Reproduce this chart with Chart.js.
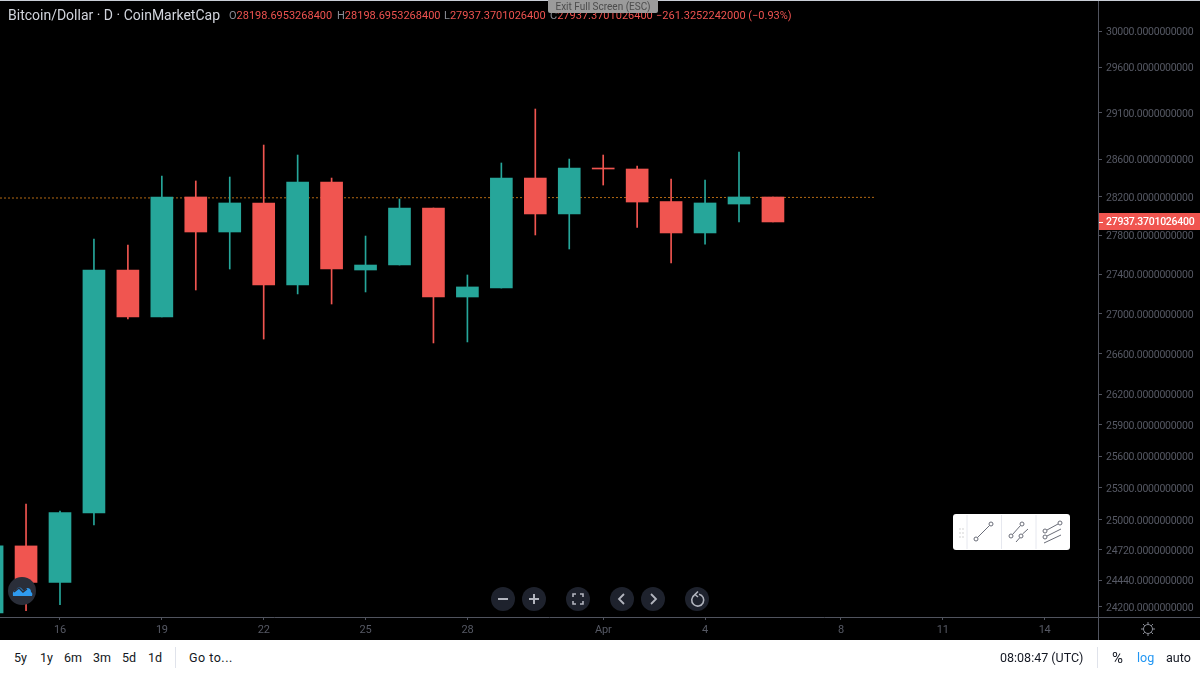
<!DOCTYPE html>
<html>
<head>
<meta charset="utf-8">
<title>Bitcoin/Dollar</title>
<script src="https://cdn.jsdelivr.net/npm/chart.js@4"></script>
<style>
  html, body { margin: 0; padding: 0; background: #000; overflow: hidden; }
  body { width: 1200px; height: 675px; position: relative; font-family: Roboto, sans-serif; }
  canvas { position: absolute; left: 0; top: 0; }
  .t { position: absolute; white-space: nowrap; }
  #topline { position: absolute; left: 0; top: 0; width: 1200px; height: 1px; background: #c9ced6; }
  #exit { position: absolute; left: 548px; top: 0; width: 110px; height: 13px; background: #9b9b9b; color: #4c4c4c;
          font-size: 10px; line-height: 13px; text-align: center; border-radius: 0 0 2px 2px; }
  .ohlc { top: 8px; font-size: 11px; line-height: 15px; color: #ef5350; }
  .ohlc b { font-weight: 400; color: #8a8d96; }
  #bottom { position: absolute; left: 0; top: 640px; width: 1200px; height: 35px; background: #fff; color: #131722; font-size: 12.5px; }
  #bottom .t { top: 10px; line-height: 16px; }
  #bottom .sep { position: absolute; top: 7px; width: 1px; height: 21px; background: #e0e3eb; }
  .round { position: absolute; top: 587px; width: 24px; height: 24px; border-radius: 12px; background: #1e222d; }
  .round svg { position: absolute; left: 0; top: 0; }
  #logo { position: absolute; left: 8px; top: 577px; width: 28px; height: 28px; border-radius: 14px; background: #2a2e39; }
  #tools { position: absolute; left: 953px; top: 514px; width: 117px; height: 36px; background: #fff; border-radius: 3px; }
  #tools svg { position: absolute; left: 0; top: 0; }
  #gear { position: absolute; left: 1140px; top: 621px; }
</style>
</head>
<body>
<canvas id="myChart" width="1200" height="640"></canvas>
<div id="topline"></div>

<div class="t" style="left:8px;top:7px;font-size:14px;line-height:17px;color:#d1d4dc">Bitcoin/Dollar · D · CoinMarketCap</div>
<div class="t ohlc" style="left:229px"><b>O</b>28198.6953268400</div>
<div class="t ohlc" style="left:337px"><b>H</b>28198.6953268400</div>
<div class="t ohlc" style="left:444px"><b>L</b>27937.3701026400</div>
<div class="t ohlc" style="left:550px"><b>C</b>27937.3701026400</div>
<div class="t ohlc" style="left:656px">−261.3252242000 (−0.93%)</div>
<div id="exit">Exit Full Screen (ESC)</div>

<div id="logo"><svg width="28" height="28" viewBox="0 0 28 28"><path d="M5 19 q-1 -5 3 -6 q2 -4 5 -2 l3 3 l3 -3 q4 0 4 4 q2 1 1 4 z" fill="#2f9bf0"/><path d="M6 15 l5 -4 l4 4 l4 -3" fill="none" stroke="#2a2e39" stroke-width="1.4"/></svg></div>

<div class="round" style="left:491px"><svg width="24" height="24"><path d="M7 12 H17" stroke="#b2b5be" stroke-width="2"/></svg></div>
<div class="round" style="left:522px"><svg width="24" height="24"><path d="M7 12 H17 M12 7 V17" stroke="#b2b5be" stroke-width="2"/></svg></div>
<div class="round" style="left:566px"><svg width="24" height="24"><path d="M7 10 V7 H10 M14 7 H17 V10 M17 14 V17 H14 M10 17 H7 V14" fill="none" stroke="#b2b5be" stroke-width="1.6"/></svg></div>
<div class="round" style="left:610px"><svg width="24" height="24"><path d="M14 7 L9 12 L14 17" fill="none" stroke="#b2b5be" stroke-width="1.8"/></svg></div>
<div class="round" style="left:641px"><svg width="24" height="24"><path d="M10 7 L15 12 L10 17" fill="none" stroke="#b2b5be" stroke-width="1.8"/></svg></div>
<div class="round" style="left:685px"><svg width="24" height="24"><path d="M9.5 8 A6 6 0 1 0 14 7.2 M13 4.5 L10 7.5 L13 10" fill="none" stroke="#b2b5be" stroke-width="1.6"/></svg></div>

<div id="tools"><svg width="117" height="36" fill="none" stroke="#6a6d78" stroke-width="1">
  <circle cx="7" cy="15" r=".8" fill="#ccc" stroke="none"/><circle cx="10" cy="15" r=".8" fill="#ccc" stroke="none"/>
  <circle cx="7" cy="19" r=".8" fill="#ccc" stroke="none"/><circle cx="10" cy="19" r=".8" fill="#ccc" stroke="none"/>
  <circle cx="7" cy="23" r=".8" fill="#ccc" stroke="none"/><circle cx="10" cy="23" r=".8" fill="#ccc" stroke="none"/>
  <path d="M14 1 V35 M48.5 1 V35 M83 1 V35" stroke="#e6e8ef"/>
  <circle cx="23" cy="25" r="2"/><circle cx="38" cy="10" r="2"/><path d="M24.5 23.5 L36.5 11.5"/>
  <circle cx="58" cy="22" r="2"/><circle cx="69" cy="10" r="2"/><path d="M59.5 20.5 L67.5 11.5"/>
  <circle cx="68" cy="22" r="2"/><path d="M63 28 L66.5 24 M69.5 20 L75 15"/>
  <circle cx="92" cy="17" r="2"/><circle cx="107" cy="9" r="2"/><path d="M94 16 L105 10"/>
  <circle cx="92" cy="23" r="2"/><path d="M94 22 L108 15"/>
  <path d="M91 29 L108 21"/>
</svg></div>

<svg id="gear" width="16" height="16" viewBox="0 0 16 16" fill="none" stroke="#8a8d96" stroke-width="1"><circle cx="8" cy="8" r="4.5"/><path d="M8 1 V3.5 M8 12.5 V15 M1 8 H3.5 M12.5 8 H15 M3 3 L4.8 4.8 M11.2 11.2 L13 13 M13 3 L11.2 4.8 M4.8 11.2 L3 13"/></svg>

<div id="bottom">
  <div class="t" style="left:14px">5y</div>
  <div class="t" style="left:40px">1y</div>
  <div class="t" style="left:64px">6m</div>
  <div class="t" style="left:93px">3m</div>
  <div class="t" style="left:122px">5d</div>
  <div class="t" style="left:148px">1d</div>
  <div class="sep" style="left:175px"></div>
  <div class="t" style="left:189px;letter-spacing:.5px">Go to...</div>
  <div class="t" style="left:1000px">08:08:47 (UTC)</div>
  <div class="sep" style="left:1097px"></div>
  <div class="t" style="left:1112px;font-size:15px">%</div>
  <div class="t" style="left:1137px;color:#2196f3">log</div>
  <div class="t" style="left:1166px">auto</div>
</div>

<script>
// days counted from 1 March, so 1 April is 32
var days =   [14, 15, 16, 17, 18, 19, 20, 21, 22, 23, 24, 25, 26, 27, 28, 29, 30, 31, 32, 33, 34, 35, 36, 37];
var opens =  [24144, 24756, 24421, 25062, 27441, 26964, 28199, 27833, 28136, 27288, 28357, 27441, 27492, 28083, 27166, 27257, 28399, 28021, 28505, 28495, 28151, 27823, 28125, 28198.6953];
var highs =  [24830, 25146, 25081, 27760, 27698, 28421, 28368, 28410, 28751, 28644, 28399, 27791, 28178, 28083, 27390, 28559, 29140, 28601, 28644, 28527, 28389, 28378, 28676, 28198.6953];
var lows =   [24144, 24166, 24219, 24950, 26944, 26964, 27237, 27451, 26743, 27197, 27095, 27217, 27492, 26704, 26714, 27257, 27802, 27657, 28325, 27880, 27513, 27708, 27937, 27937.3701];
var closes = [24756, 24421, 25067, 27441, 26964, 28199, 27833, 28136, 27288, 28357, 27451, 27492, 28083, 27166, 27268, 28399, 28021, 28505, 28495, 28146, 27823, 28136, 28199, 27937.3701];

var yTicks = [30000, 29600, 29100, 28600, 28200, 27800, 27400, 27000, 26600, 26200, 25900, 25600, 25300, 25000, 24720, 24440, 24200];
var xTickDays = [16, 19, 22, 25, 28, 32, 35, 39, 42, 45];
var xTickLabels = ['16', '19', '22', '25', '28', 'Apr', '4', '8', '11', '14'];

var priceLineDays = [14.233, 40];
var priceLineValues = [28188, 28195];
var lastPrice = 27937.3701026400;

var green = '#26a69a';
var red = '#f05550';
var axisColor = '#50535e';
var tickColor = '#565964';

function candleColor(i) {
  return closes[i] >= opens[i] ? green : red;
}

// edge lines of the price pane and the label of the last price
var paneChrome = {
  id: 'paneChrome',
  afterDraw: function (chart) {
    var ctx = chart.ctx;
    var area = chart.chartArea;
    var y = chart.scales.y.getPixelForValue(lastPrice);
    ctx.save();
    ctx.strokeStyle = axisColor;
    ctx.lineWidth = 1;
    ctx.beginPath();
    ctx.moveTo(area.right + 0.5, area.bottom);
    ctx.lineTo(area.right + 0.5, 640);
    ctx.moveTo(area.right, area.bottom + 0.5);
    ctx.lineTo(1200, area.bottom + 0.5);
    ctx.stroke();
    ctx.fillStyle = red;
    ctx.fillRect(area.right + 1, Math.round(y) - 9, 102, 17);
    ctx.fillStyle = '#fff';
    ctx.fillRect(area.right + 1, Math.round(y), 4, 1);
    ctx.font = '500 10.5px Roboto';
    ctx.textBaseline = 'middle';
    ctx.fillText(lastPrice.toFixed(10), 1106, Math.round(y));
    ctx.restore();
  }
};

var config = {
  type: 'bar',
  data: {
    datasets: [
      {
        type: 'line',
        data: priceLineDays.map(function (d, i) { return { x: d, y: priceLineValues[i] }; }),
        borderColor: '#b56a14',
        borderWidth: 1,
        borderDash: [2, 2],
        pointRadius: 0,
        order: 3
      },
      {
        data: days.map(function (d, i) { return { x: d, y: [lows[i], highs[i]] }; }),
        backgroundColor: days.map(function (d, i) { return candleColor(i); }),
        barThickness: 1,
        grouped: false,
        order: 2
      },
      {
        data: days.map(function (d, i) { return { x: d, y: [opens[i], closes[i]] }; }),
        backgroundColor: days.map(function (d, i) { return candleColor(i); }),
        barThickness: 22,
        grouped: false,
        minBarLength: 1,
        order: 1
      }
    ]
  },
  options: {
    responsive: false,
    animation: false,
    events: [],
    layout: { padding: 0 },
    plugins: { legend: { display: false }, tooltip: { enabled: false } },
    scales: {
      x: {
        type: 'linear',
        position: 'bottom',
        min: 14.233,
        max: 46.574,
        offset: false,
        afterBuildTicks: function (scale) {
          scale.ticks = xTickDays.map(function (d) { return { value: d }; });
        },
        afterFit: function (scale) {
          scale.height = 23;
          scale.paddingLeft = 0;
          scale.paddingRight = 0;
        },
        grid: { offset: false, drawOnChartArea: false, tickLength: 3, tickColor: axisColor },
        border: { color: axisColor },
        ticks: {
          autoSkip: false,
          maxRotation: 0,
          padding: 4,
          color: tickColor,
          font: { family: 'Roboto', size: 11 },
          callback: function (value) { return xTickLabels[xTickDays.indexOf(value)]; }
        }
      },
      y: {
        type: 'logarithmic',
        position: 'right',
        min: 24108,
        max: 30350,
        afterBuildTicks: function (scale) {
          scale.ticks = yTicks.map(function (v) { return { value: v }; });
        },
        afterFit: function (scale) {
          scale.width = 102;
          scale.paddingTop = 0;
          scale.paddingBottom = 0;
        },
        grid: { drawOnChartArea: false, tickLength: 4, tickColor: axisColor },
        border: { color: axisColor },
        ticks: {
          autoSkip: false,
          padding: 4,
          labelOffset: 1.5,
          color: tickColor,
          font: { family: 'Roboto', size: 10.5 },
          callback: function (value) { return value.toFixed(10); }
        }
      }
    }
  },
  plugins: [paneChrome]
};

const ctx = document.getElementById('myChart');
let chart = new Chart(ctx, config);
// price labels in the reference are set a little tighter than Roboto
chart.ctx.letterSpacing = '-0.25px';
chart.draw();
</script>
</body>
</html>
